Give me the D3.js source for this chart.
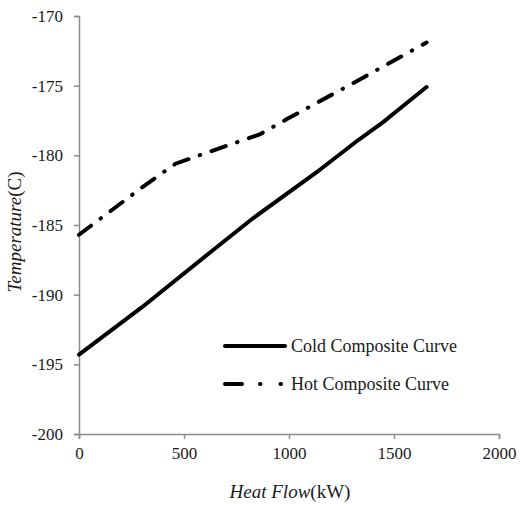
<!DOCTYPE html>
<html>
<head>
<meta charset="utf-8">
<script src="https://cdn.jsdelivr.net/npm/d3@7"></script>
<style>
  body { margin: 0; background: #fff; }
  svg text { font-family: "Liberation Serif", Tinos, "Times New Roman", Times, "DejaVu Serif", serif; fill: #1a1a1a; }
</style>
</head>
<body>
<script>
// values
const coldFlow = [0, 300, 630, 830, 1150, 1330, 1450, 1490, 1655];
const coldTemp = [-194.3, -190.9, -186.9, -184.5, -181.0, -178.9, -177.6, -177.1, -175.1];
const hotFlow = [0, 150, 300, 460, 630, 860, 990, 1320, 1655];
const hotTemp = [-185.7, -184.0, -182.3, -180.6, -179.7, -178.5, -177.4, -174.7, -171.9];
const xTicks = [0, 500, 1000, 1500, 2000];
const yTicks = [-200, -195, -190, -185, -180, -175, -170];
const seriesNames = ["Cold Composite Curve", "Hot Composite Curve"];

const width = 521, height = 506;
const serif = "'Liberation Serif', Tinos, 'Times New Roman', Times, 'DejaVu Serif', serif";

const svg = d3.select("body").append("svg")
    .attr("width", width)
    .attr("height", height);

const x = d3.scaleLinear().domain([0, 2000]).range([79, 499]);
const y = d3.scaleLinear().domain([-200, -170]).range([434, 16]);

const axisColor = "#8c8c8c";

const xAxis = svg.append("g")
    .attr("transform", "translate(0,434)")
    .call(d3.axisBottom(x).tickValues(xTicks).tickSize(5).tickPadding(8).tickFormat(d3.format("d")));
const yAxis = svg.append("g")
    .attr("transform", "translate(79,0)")
    .call(d3.axisLeft(y).tickValues(yTicks).tickSize(5).tickPadding(11).tickFormat(d => d));

[xAxis, yAxis].forEach(g => {
    g.attr("font-family", serif).attr("font-size", 17);
    g.select(".domain").attr("stroke", axisColor).attr("stroke-width", 1.5);
    g.selectAll(".tick line").attr("stroke", axisColor).attr("stroke-width", 1.5);
    g.selectAll(".tick text").attr("fill", "#1a1a1a");
});

const line = d3.line().x(d => x(d[0])).y(d => y(d[1]));

const cold = coldFlow.map((v, i) => [v, coldTemp[i]]);
const hot = hotFlow.map((v, i) => [v, hotTemp[i]]);

svg.append("path")
    .datum(cold)
    .attr("d", line)
    .attr("fill", "none")
    .attr("stroke", "#000")
    .attr("stroke-width", 4)
    .attr("stroke-linecap", "round")
    .attr("stroke-linejoin", "round");

svg.append("path")
    .datum(hot)
    .attr("d", line)
    .attr("fill", "none")
    .attr("stroke", "#000")
    .attr("stroke-width", 4)
    .attr("stroke-linecap", "round")
    .attr("stroke-dasharray", "15 12 0.5 12");

// legend
const legend = svg.append("g");
seriesNames.forEach((name, i) => {
    const ly = 346 + i * 38;
    legend.append("line")
        .attr("x1", 225).attr("x2", 285)
        .attr("y1", ly).attr("y2", ly)
        .attr("stroke", "#000")
        .attr("stroke-width", 4)
        .attr("stroke-linecap", "round")
        .attr("stroke-dasharray", i === 0 ? null : "17 18 0.5 20 0.5 20");
    legend.append("text")
        .attr("x", 291)
        .attr("y", ly + 6)
        .attr("font-family", serif)
        .attr("font-size", 18)
        .text(name);
});

// axis titles
const xt = svg.append("text")
    .attr("x", 290)
    .attr("y", 498)
    .attr("text-anchor", "middle")
    .attr("font-family", serif)
    .attr("font-size", 19);
xt.append("tspan").attr("font-style", "italic").text("Heat Flow");
xt.append("tspan").text("(kW)");

const yt = svg.append("text")
    .attr("transform", "translate(21,232) rotate(-90)")
    .attr("text-anchor", "middle")
    .attr("font-family", serif)
    .attr("font-size", 19);
yt.append("tspan").attr("font-style", "italic").text("Temperature");
yt.append("tspan").text("(C)");
</script>
</body>
</html>
